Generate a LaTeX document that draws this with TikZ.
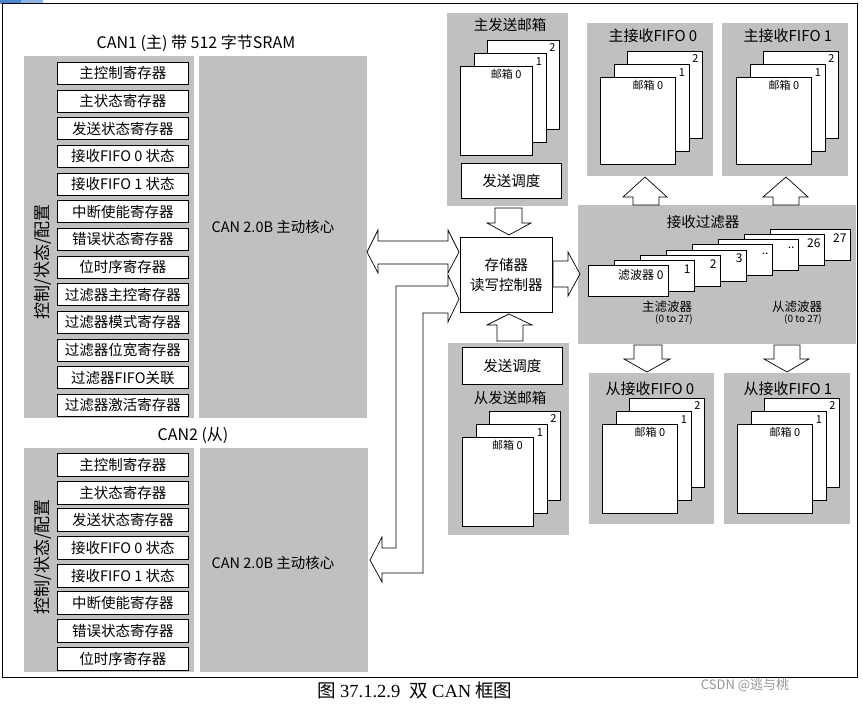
\documentclass[tikz,border=0pt]{standalone}
\usepackage{fontspec}
\setmainfont{Noto Sans CJK SC}
\newfontfamily\capserif{Liberation Serif}
\usetikzlibrary{calc}
\definecolor{panelgray}{RGB}{192,192,192}
\definecolor{blueA}{RGB}{74,134,208}
\definecolor{blueB}{RGB}{143,180,227}
\definecolor{wmgray}{RGB}{150,150,150}
\tikzset{
  panel/.style={fill=panelgray, draw=none, anchor=north west, inner sep=0pt},
  reg/.style={draw=black, line width=0.7pt, fill=white, anchor=north west, inner sep=0pt,
    minimum width=131pt, font=\fontsize{14.5}{16}\selectfont},
  sheet/.style={draw=black, line width=0.7pt, fill=white, anchor=north west, inner sep=0pt},
  plainbox/.style={draw=black, line width=0.8pt, fill=white, inner sep=0pt, anchor=north west,
    font=\fontsize{14.5}{16}\selectfont},
  blockarrow/.style={draw=black, line width=0.7pt, fill=white, line join=miter},
  ttl/.style={font=\fontsize{14.5}{16}\selectfont, inner sep=0pt},
  fifottl/.style={font=\fontsize{15}{16}\selectfont, inner sep=0pt},
  small/.style={font=\fontsize{11}{12}\selectfont, inner sep=0pt},
  fnum/.style={font=\fontsize{12}{13}\selectfont, inner sep=0pt},
  tiny/.style={font=\fontsize{10}{11}\selectfont, inner sep=0pt},
  vlabel/.style={rotate=90, font=\fontsize{17}{18}\selectfont, inner sep=0pt},
}
% name, x, y (front sheet top-left), width, height
\newcommand\mailstack[5]{%
  \node[sheet, minimum width=#4pt, minimum height=#5pt] (#1-2) at (#2+27,#3-26) {};
  \node[small, anchor=east] (#1-l2) at ($(#1-2.north east)+(-4,8)$) {2};
  \node[sheet, minimum width=#4pt, minimum height=#5pt] (#1-1) at (#2+13.5,#3-13) {};
  \node[small, anchor=east] (#1-l1) at ($(#1-1.north east)+(-4,9)$) {1};
  \node[sheet, minimum width=#4pt, minimum height=#5pt] (#1-0) at (#2,#3) {};
  \node[small] (#1-l0) at (#2+0.64*#4,#3+8) {邮箱 0};
}
\begin{document}
\begin{tikzpicture}[x=1pt,y=-1pt]
\useasboundingbox (0,0) rectangle (863,708);
\fill[white] (0,0) rectangle (863,708);
\fill[blueA] (0,0) rectangle (21,4);
\fill[blueB] (21,0) rectangle (43,4);

% ---------- CAN1 ----------
\node[inner sep=0pt, font=\fontsize{16}{17}\selectfont] (t1) at (196,43) {CAN1 (主) 带 512 字节SRAM};
\node[panel, minimum width=170pt, minimum height=362pt] (c1reg) at (24,56) {};
\node[panel, minimum width=168pt, minimum height=362pt] (c1core) at (199,56) {};
\foreach \t [count=\i from 0] in {主控制寄存器,主状态寄存器,发送状态寄存器,接收FIFO 0 状态,接收FIFO 1 状态,中断使能寄存器,错误状态寄存器,位时序寄存器,过滤器主控寄存器,过滤器模式寄存器,过滤器位宽寄存器,过滤器FIFO关联,过滤器激活寄存器}
  \node[reg, minimum height=22pt] (r1-\i) at (57,62+27.67*\i) {\t};
\node[vlabel] (v1) at (43,262) {控制/状态/配置};
\node[ttl] (core1) at (273,227) {CAN 2.0B 主动核心};

% ---------- CAN2 ----------
\node[inner sep=0pt, font=\fontsize{16}{17}\selectfont] (t2) at (193,436) {CAN2 (从)};
\node[panel, minimum width=170pt, minimum height=224pt] (c2reg) at (24,448) {};
\node[panel, minimum width=168pt, minimum height=224pt] (c2core) at (200,448) {};
\foreach \t [count=\i from 0] in {主控制寄存器,主状态寄存器,发送状态寄存器,接收FIFO 0 状态,接收FIFO 1 状态,中断使能寄存器,错误状态寄存器,位时序寄存器}
  \node[reg, minimum height=23pt] (r2-\i) at (57,453+27.7*\i) {\t};
\node[vlabel] (v2) at (43,557) {控制/状态/配置};
\node[ttl] (core2) at (273,563) {CAN 2.0B 主动核心};

% ---------- master transmit mailboxes ----------
\node[panel, minimum width=121pt, minimum height=193pt] (txm) at (447,13) {};
\node[ttl] (txmt) at (510,25) {主发送邮箱};
\mailstack{txmb}{460}{66}{72}{89}
\node[plainbox, minimum width=100pt, minimum height=35pt] (schm) at (461,163) {发送调度};

% ---------- slave transmit mailboxes ----------
\node[panel, minimum width=121pt, minimum height=192pt] (txs) at (448,343) {};
\node[plainbox, minimum width=100pt, minimum height=37pt] (schs) at (462,347) {发送调度};
\node[ttl] (txst) at (510,398) {从发送邮箱};
\mailstack{txsb}{462}{437}{71}{89}

% ---------- memory controller ----------
\node[plainbox, minimum width=92pt, minimum height=75pt, align=center,
  font=\fontsize{14.5}{20}\selectfont] (ctrl) at (460,237) {存储器\\读写控制器};

% ---------- receive FIFOs (master) ----------
\node[panel, minimum width=126pt, minimum height=153pt] (rx0) at (587,23) {};
\node[fifottl] (rx0t) at (653,36) {主接收FIFO 0};
\mailstack{rx0b}{600}{77}{75}{87}
\node[panel, minimum width=126pt, minimum height=153pt] (rx1) at (722,23) {};
\node[fifottl] (rx1t) at (788,36) {主接收FIFO 1};
\mailstack{rx1b}{736}{77}{75}{87}

% ---------- filters ----------
\node[panel, minimum width=278pt, minimum height=139pt] (filt) at (578,205) {};
\node[ttl] (filtt) at (703,222) {接收过滤器};
\foreach \i/\lab in {7/27,6/26,5/{..},4/{..},3/3,2/2,1/1} {
  \node[sheet, minimum width=80pt, minimum height=31pt] (f\i) at (588+26*\i,265-5.15*\i) {};
  \node[fnum, anchor=east] (fl\i) at ($(f\i.north east)+(-4,9)$) {\lab};
}
\node[sheet, minimum width=80pt, minimum height=31pt] (f0) at (588,265) {};
\node[fnum, anchor=east] (fl0) at ($(f0.north east)+(-5,10)$) {滤波器 0};
\node[font=\fontsize{12.5}{13}\selectfont, inner sep=0pt] (mf) at (667,307) {主滤波器};
\node[tiny] (mfr) at (674,319) {(0 to 27)};
\node[font=\fontsize{12.5}{13}\selectfont, inner sep=0pt] (sf) at (797,307) {从滤波器};
\node[tiny] (sfr) at (803,319) {(0 to 27)};

% ---------- receive FIFOs (slave) ----------
\node[panel, minimum width=125pt, minimum height=151pt] (srx0) at (589,373) {};
\node[fifottl] (srx0t) at (650,389) {从接收FIFO 0};
\mailstack{srx0b}{602}{424}{75}{89}
\node[panel, minimum width=126pt, minimum height=151pt] (srx1) at (724,373) {};
\node[fifottl] (srx1t) at (788,389) {从接收FIFO 1};
\mailstack{srx1b}{737}{424}{75}{89}

% ---------- block arrows ----------
% master tx -> controller
\draw[blockarrow] (495,208) -- (522,208) -- (522,223) -- (531,223) -- (509,235) -- (487,223) -- (495,223) -- cycle;
% slave tx -> controller
\draw[blockarrow] (497,341) -- (523,341) -- (523,325) -- (532,325) -- (509,314) -- (487,325) -- (497,325) -- cycle;
% controller -> filters
\draw[blockarrow] (553,261) -- (568,261) -- (568,252) -- (580,274) -- (568,296) -- (568,287) -- (553,287) -- cycle;
% filters -> master FIFOs
\draw[blockarrow] (633,205) -- (633,197) -- (623,197) -- (645,177) -- (667,197) -- (659,197) -- (659,205) -- cycle;
\draw[blockarrow] (773,205) -- (773,197) -- (763,197) -- (786,177) -- (808,197) -- (799,197) -- (799,205) -- cycle;
% filters -> slave FIFOs
\draw[blockarrow] (634,345) -- (662,345) -- (662,359) -- (670,359) -- (647,372) -- (624,359) -- (634,359) -- cycle;
\draw[blockarrow] (774,345) -- (800,345) -- (800,359) -- (809,359) -- (787,372) -- (764,359) -- (774,359) -- cycle;
% CAN1 <-> controller
\draw[blockarrow] (367,252) -- (378,230) -- (378,241) -- (448,241) -- (448,230) -- (459,252)
  -- (448,273) -- (448,264) -- (378,264) -- (378,273) -- cycle;
% CAN2 <-> controller
\draw[blockarrow] (459,299) -- (448,322) -- (448,313) -- (423,313) -- (423,573) -- (382,573)
  -- (382,582) -- (370,560) -- (382,537) -- (382,548) -- (396,548) -- (396,286) -- (448,286)
  -- (448,275) -- cycle;

% ---------- frame and caption ----------
\draw[line width=1pt] (2,4) rectangle (857,677);
\node[inner sep=0pt, font=\fontsize{18.5}{20}\selectfont] (cap) at (415,690)
  {图 {\capserif 37.1.2.9}\enspace 双 {\capserif CAN} 框图};
\node[inner sep=0pt, text=wmgray, font=\fontsize{13}{14}\selectfont] (wm) at (745,685) {CSDN @逃与桃};
\end{tikzpicture}
\end{document}
